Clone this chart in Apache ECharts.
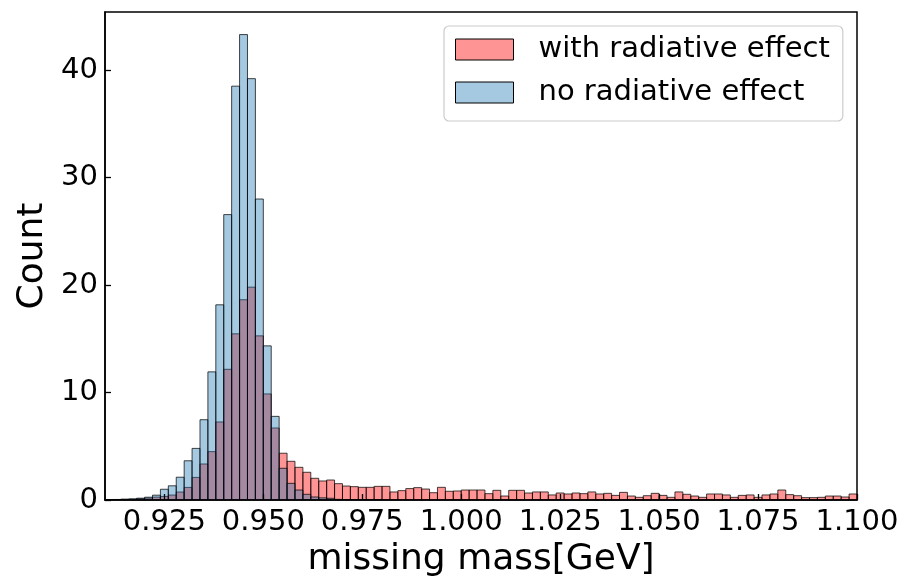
<!DOCTYPE html>
<html><head><meta charset="utf-8">
<script src="https://cdn.jsdelivr.net/npm/echarts@6/dist/echarts.min.js"></script>
<style>html,body{margin:0;padding:0;background:#fff}#c{width:902px;height:579px}</style>
</head><body><div id="c"></div>
<script>
const binStart = 0.910;
const binWidth = 0.002;
const seriesNames = ['with radiative effect', 'no radiative effect'];
const withRad = [
  0.02, 0.03, 0.05, 0.08, 0.12, 0.18, 0.27, 0.33, 0.46, 0.74,
  1.17, 2.1, 3.35, 4.5, 7.26, 12.16, 15.46, 18.63, 19.8, 15.27,
  9.87, 6.7, 4.35, 3.6, 3.04, 2.58, 2.02, 1.77, 1.86, 1.52,
  1.3, 1.24, 1.18, 1.18, 1.27, 1.27, 0.75, 0.87, 1.06, 1.15,
  1.02, 0.68, 1.18, 0.81, 0.84, 0.93, 0.93, 0.93, 0.59, 0.9,
  0.37, 0.9, 0.9, 0.65, 0.75, 0.75, 0.47, 0.65, 0.56, 0.65,
  0.59, 0.75, 0.56, 0.62, 0.43, 0.71, 0.37, 0.25, 0.4, 0.62,
  0.43, 0.25, 0.75, 0.53, 0.37, 0.25, 0.56, 0.56, 0.47, 0.25,
  0.43, 0.47, 0.25, 0.47, 0.56, 0.93, 0.5, 0.4, 0.22, 0.22,
  0.25, 0.37, 0.37, 0.28, 0.56
];
const noRad = [
  0.03, 0.05, 0.08, 0.1, 0.17, 0.26, 0.45, 1.0, 1.32, 2.12,
  3.65, 4.8, 7.47, 11.92, 18.16, 26.55, 38.5, 43.3, 39.2, 28.0,
  14.34, 7.78, 2.95, 1.55, 0.93, 0.53, 0.28, 0.2, 0.16, 0.06,
  0.04, 0.03, 0.02, 0.02, 0.01, 0, 0, 0, 0, 0,
  0, 0, 0, 0, 0, 0, 0, 0, 0, 0,
  0, 0, 0, 0, 0, 0, 0, 0, 0, 0,
  0, 0, 0, 0, 0, 0, 0, 0, 0, 0,
  0, 0, 0, 0, 0, 0, 0, 0, 0, 0,
  0, 0, 0, 0, 0, 0, 0, 0, 0, 0,
  0, 0, 0, 0, 0
];
const xTicks = [0.925, 0.950, 0.975, 1.000, 1.025, 1.050, 1.075, 1.100];
const yTicks = [0, 10, 20, 30, 40];
const colors = ['rgba(255,0,0,0.42)', 'rgba(31,119,180,0.4)'];

function toData(vals) {
  return vals.map((v, i) => [binStart + i * binWidth, binStart + (i + 1) * binWidth, v]);
}
function renderItem(params, api) {
  const x0 = api.value(0), x1 = api.value(1), h = api.value(2);
  if (!(h > 0)) return null;
  const p0 = api.coord([x0, 0]);
  const p1 = api.coord([x1, h]);
  return {
    type: 'rect',
    shape: { x: p0[0], y: p1[1], width: p1[0] - p0[0], height: p0[1] - p1[1] },
    style: { fill: api.visual('color'), stroke: 'rgba(0,0,0,0.72)', lineWidth: 1 }
  };
}
const font = 'DejaVu Sans';
const chart = echarts.init(document.getElementById('c'), null, { renderer: 'canvas' });
chart.setOption({
  animation: false,
  backgroundColor: '#fff',
  textStyle: { fontFamily: font },
  grid: { left: 105, right: 45, top: 12, bottom: 79, containLabel: false, outerBoundsMode: 'none',
    show: true, borderColor: '#000', borderWidth: 1.5, backgroundColor: 'transparent' },
  legend: {
    orient: 'vertical', left: 444, top: 26,
    padding: [9, 13, 14, 11],
    itemWidth: 58, itemHeight: 21, itemGap: 14,
    backgroundColor: '#fff', borderColor: '#cccccc', borderWidth: 1.2, borderRadius: 5,
    icon: 'rect',
    textStyle: { fontFamily: font, fontSize: 29, color: '#000', padding: [0, 0, 0, 20] },
    data: seriesNames.map((n, k) => ({ name: n, itemStyle: { color: colors[k], borderColor: '#000', borderWidth: 1 } }))
  },
  xAxis: {
    type: 'value', min: binStart, max: 1.100, z: 5,
    name: 'missing mass[GeV]', nameLocation: 'middle', nameGap: 37,
    nameTextStyle: { fontFamily: font, fontSize: 36, color: '#000' },
    axisLine: { show: true, lineStyle: { color: '#000', width: 1.5 } },
    axisTick: { show: true, inside: true, length: 6, lineStyle: { color: '#000', width: 1.3 }, customValues: xTicks },
    axisLabel: { show: true, fontFamily: font, fontSize: 29, color: '#000', margin: 8, customValues: xTicks, formatter: v => v.toFixed(3) },
    splitLine: { show: false }
  },
  yAxis: {
    type: 'value', min: 0, max: 45.4, z: 5,
    name: 'Count', nameLocation: 'middle', nameGap: 53,
    nameTextStyle: { fontFamily: font, fontSize: 36, color: '#000' },
    axisLine: { show: true, lineStyle: { color: '#000', width: 1.5 } },
    axisTick: { show: true, inside: true, length: 6, lineStyle: { color: '#000', width: 1.3 }, customValues: yTicks },
    axisLabel: { show: true, fontFamily: font, fontSize: 29, color: '#000', margin: 7, customValues: yTicks },
    splitLine: { show: false }
  },
  series: [
    { name: seriesNames[0], type: 'custom', renderItem, clip: true, itemStyle: { color: colors[0] },
      encode: { x: [0, 1], y: 2 }, data: toData(withRad) },
    { name: seriesNames[1], type: 'custom', renderItem, clip: true, itemStyle: { color: colors[1] },
      encode: { x: [0, 1], y: 2 }, data: toData(noRad) }
  ]
});
</script></body></html>
